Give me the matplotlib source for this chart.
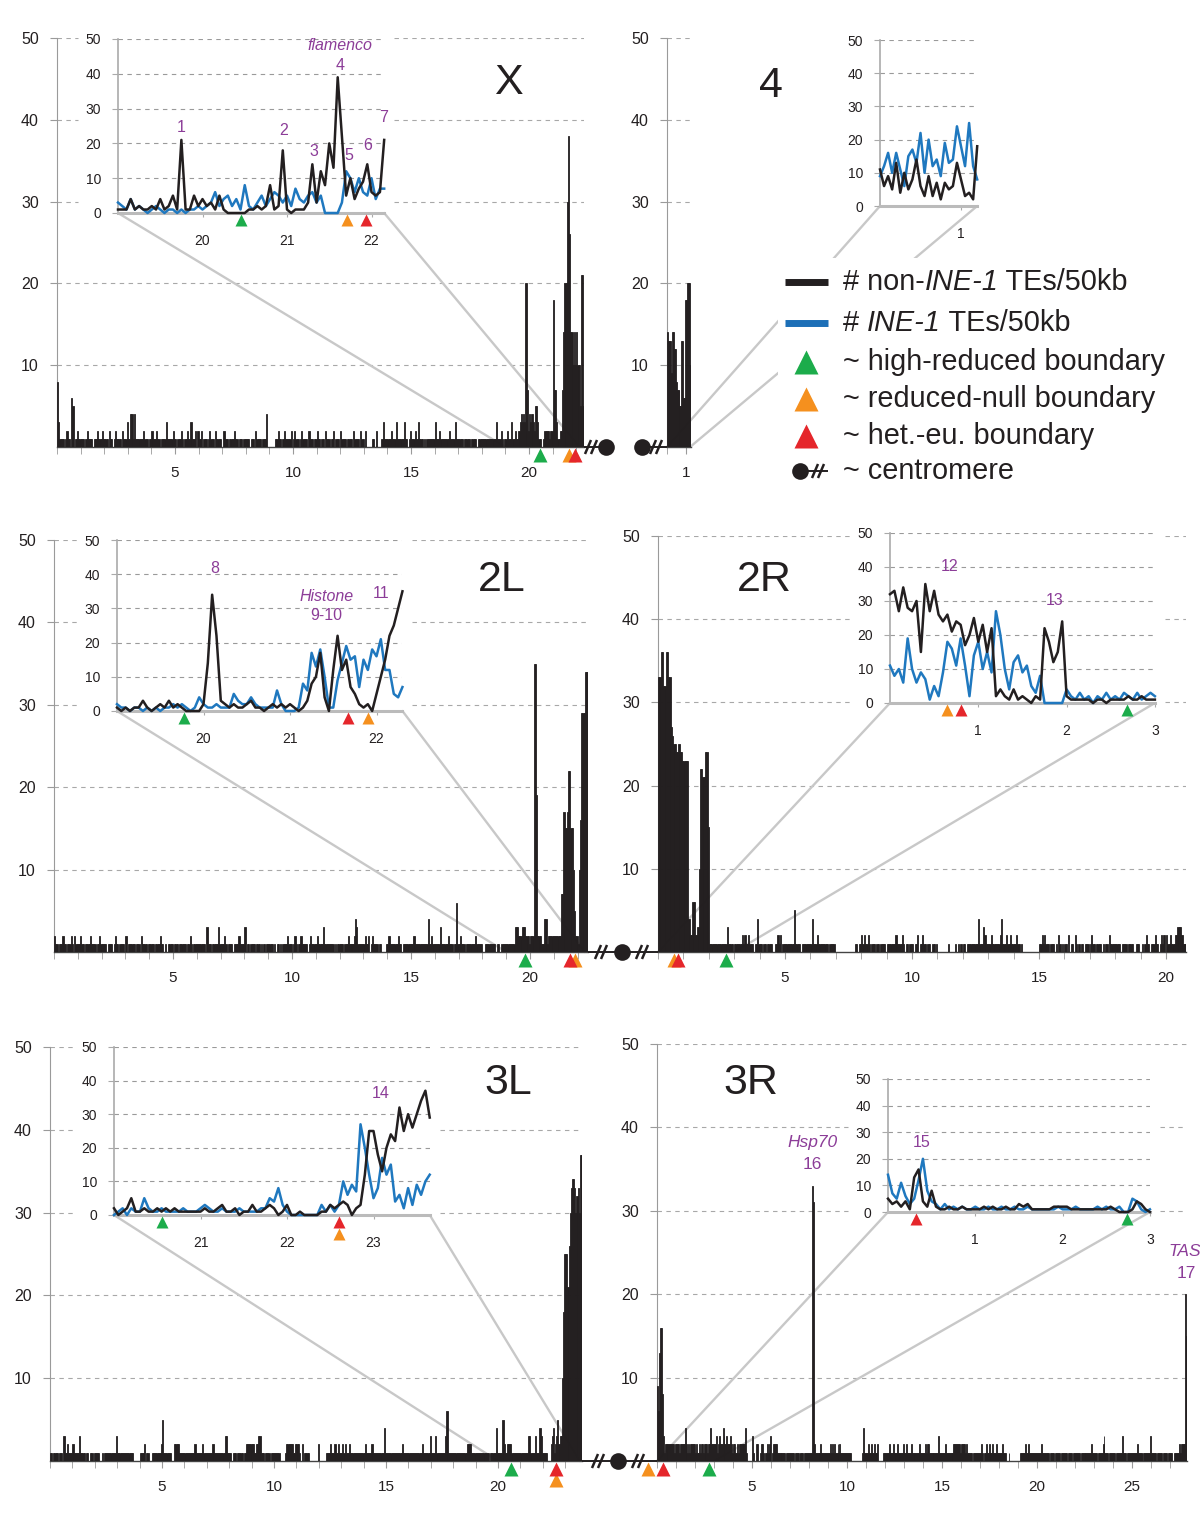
import numpy as np
import matplotlib
matplotlib.use("Agg")
import matplotlib.pyplot as plt
from matplotlib.patches import Rectangle, ConnectionPatch
from matplotlib.lines import Line2D
from matplotlib.transforms import offset_copy

plt.rcParams["font.family"] = ["Liberation Sans", "DejaVu Sans"]

# ---------------------------------------------------------------- data
# TE counts per 50 kb bin, one character per bin (0-9, a=10 ... z=35, A=36 ...)
CODE = "0123456789abcdefghijklmnopqrstuvwxyzABCDEFGHIJKLMNOPQRSTUVWXYZ"
BIN = 0.05  # Mb

X_MAIN = """
8311110121 1065011211 1110121111 0111211121 1110211012
1111021113 1144141111 1112111011 2111211011 1131111121
1011121011 2113111202 1120111012 1110211110 0211101111
2110111011 1110111021 1110111400 0000011211 0121111120
1211101211 1102111011 2110110211 1011201110 2111101111
0211110211 0200000110 2000013111 1112111311 1111311012
1112113111 0101111111 3111211111 1121111311 1111011111
0111100111 1111111111 1131112101 1211131121 1234343k72
4343255311 0012222122 i77311227e kkuCqeeaea eaa5ll5
"""
C4_MAIN = "eddd9eecc8 77755dd66i ikkka"
L2_MAIN = """
2110111211 0111210211 1121101111 2111101121 1111011110
1211011110 2011111101 1102111101 1111011112 1101001111
0111011111 1011210111 1111111031 1101111131 1112101111
0111121111 3011011110 1110101011 1111010110 1011112111
0121011211 1110121111 1211113111 1111101011 1110111211
1124311111 1211201211 1101100001 1211111112 1101111111
1121111111 1111411211 1111311111 1211101161 1211101111
1111211111 0011111111 1011001111 1111111333 2223332221
222zzj2221 1144122222 22222277hf fhmmffa522 1agtttyyy
"""
R2_MAIN = """
xxAAwwAAxx rqppoopoon nnnn422662 23ammlloof 1111111111
1111311110 1111112121 1211101141 1101101111 0011212011
1111111511 1101111111 1411121111 1111011110 0000000000
0000011011 2121121011 1011011110 1111111211 1121011011
1011201121 1011001101 0000000010 0000101010 1101111111
1141113211 1121111112 4111211211 1121101000 0000000000
1121211101 1101021010 1102011021 0101101110 1211011110
1011021111 1111011110 1111001110 0101211011 1211012120
2112111223 332111
"""
L3_MAIN = """
1101111011 1031121111 2111113111 1011001101 1111001011
1111111113 1111111111 1111000000 1111201100 0111111112
5111111100 0222211111 1111111112 1111112111 1111121111
1111113311 1101110111 1101122222 2211223311 1011110111
1111100000 1222222112 2210020111 1000000002 0000001111
2111211211 1212111211 1111111111 1211111211 1111111141
1111111111 1111211111 1111111111 1121111113 1111311111
1113611111 1111111111 1122221111 1111111111 1101111141
1111521122 2211111111 1111111331 1113111431 1111000234
1235233aip pplquxyyxu wxuBB
"""
R3_MAIN = """
96dgg83122 2222222212 2221222224 2212122222 1211212212
1221224222 2231232224 3223222321 2211212222 2224100000
3100220012 1210112123 0122221111 1111101111 1111011110
1111011111 111xv21111 1121111111 1121212111 2121111111
1111000000 0000001411 1121121121 1120000011 1111211121
1112111112 1121111211 1111112111 1121221111 1111113111
1112111111 1122222221 2222121111 1101111111 1210112112
1112111211 1112111000 1000000000 0011111211 1211111111
1111211111 1110111101 1111011111 1101111011 1111101111
1111111211 1110111112 3111101111 1101111113 1111011111
1111121111 1011111113 1111101111 1101111011 1100111112
112222kf
"""

# inset series, one value per 50 kb step from the inset start
X_INS_START = 19.0
X_INS_BLACK = [1, 1, 1, 4, 1, 2, 1, 1, 2, 1, 4, 1, 2, 5, 1, 21, 1, 1, 5, 2,
               4, 2, 3, 1, 5, 1, 0, 0, 0, 0, 0, 1, 1, 2, 1, 2, 8, 1, 2, 18,
               1, 0, 1, 1, 1, 3, 14, 3, 12, 8, 20, 13, 39, 22, 5, 10, 4, 7, 9, 14,
               6, 5, 6, 21]
X_INS_BLUE = [3, 2, 1, 4, 1, 2, 1, 0, 1, 2, 1, 0, 1, 1, 0, 1, 0, 1, 1, 2,
              1, 2, 3, 6, 2, 4, 5, 2, 4, 1, 8, 2, 1, 3, 5, 2, 4, 6, 5, 3,
              5, 2, 7, 4, 3, 5, 6, 3, 5, 0, 0, 0, 0, 3, 12, 10, 6, 10, 6, 5,
              10, 4, 7, 7]
C4_INS_START = 0.0
C4_INS_BLACK = [11, 6, 9, 5, 13, 4, 10, 5, 8, 14, 6, 3, 9, 3, 7, 2, 7, 5, 6, 13,
                8, 3, 4, 2, 18]
C4_INS_BLUE = [9, 12, 16, 10, 16, 11, 6, 15, 17, 13, 22, 10, 20, 12, 14, 9, 19, 13, 14, 24,
               18, 12, 25, 12, 8]
L2_INS_START = 19.0
L2_INS_BLACK = [1, 0, 1, 0, 1, 1, 3, 1, 0, 1, 2, 1, 3, 1, 2, 1, 0, 0, 0, 0,
                2, 14, 34, 22, 3, 2, 1, 2, 1, 1, 2, 3, 1, 1, 0, 1, 2, 1, 2, 1,
                2, 1, 0, 1, 3, 8, 10, 17, 4, 0, 12, 22, 12, 15, 7, 5, 2, 1, 2, 0,
                5, 10, 15, 22, 25, 30, 35]
L2_INS_BLUE = [2, 1, 1, 0, 1, 1, 0, 1, 0, 1, 0, 1, 1, 2, 1, 2, 1, 0, 1, 4,
               2, 1, 1, 2, 1, 1, 1, 5, 3, 2, 2, 4, 2, 1, 1, 1, 1, 6, 2, 0,
               0, 0, 1, 8, 6, 17, 13, 18, 10, 1, 1, 9, 14, 19, 15, 16, 7, 15, 12, 18,
               16, 21, 12, 12, 5, 4, 7]
R2_INS_START = 0.0
R2_INS_BLACK = [32, 33, 27, 34, 28, 27, 30, 15, 35, 27, 33, 26, 24, 26, 21, 24, 23, 17, 20, 25,
                18, 23, 15, 22, 2, 4, 2, 1, 4, 1, 2, 1, 0, 2, 1, 22, 18, 12, 15, 24,
                2, 1, 1, 1, 1, 1, 0, 1, 1, 0, 1, 1, 1, 1, 2, 1, 1, 2, 1, 1, 1]
R2_INS_BLUE = [11, 8, 10, 6, 19, 10, 6, 9, 7, 1, 5, 2, 9, 18, 16, 11, 19, 11, 2, 14,
               18, 10, 15, 9, 27, 20, 10, 4, 12, 14, 9, 11, 5, 3, 8, 0, 0, 0, 0, 0,
               4, 2, 1, 3, 1, 2, 0, 2, 1, 3, 1, 2, 1, 3, 2, 1, 3, 1, 2, 3, 2]
L3_INS_START = 20.0
L3_INS_BLACK = [2, 0, 1, 2, 5, 1, 1, 2, 1, 1, 2, 1, 2, 1, 2, 1, 1, 1, 1, 1,
                1, 2, 1, 1, 2, 3, 1, 1, 2, 0, 1, 1, 3, 1, 1, 2, 3, 2, 0, 1,
                3, 0, 0, 1, 0, 0, 0, 0, 1, 1, 3, 2, 3, 4, 3, 0, 2, 3, 12, 25,
                25, 18, 13, 20, 24, 22, 32, 25, 30, 26, 30, 34, 37, 29]
L3_INS_BLUE = [0, 1, 2, 0, 2, 1, 1, 5, 2, 1, 1, 2, 1, 1, 1, 1, 2, 1, 1, 1,
               2, 3, 2, 1, 1, 2, 1, 1, 1, 2, 1, 1, 1, 1, 2, 2, 5, 4, 8, 3,
               1, 0, 0, 0, 0, 0, 0, 0, 3, 1, 3, 1, 3, 10, 6, 9, 7, 27, 20, 12,
               5, 8, 17, 12, 15, 4, 6, 2, 8, 3, 9, 6, 10, 12]
R3_INS_START = 0.0
R3_INS_BLACK = [5, 3, 4, 2, 4, 1, 13, 16, 4, 2, 8, 2, 1, 1, 2, 1, 1, 2, 1, 1,
                1, 1, 2, 1, 2, 1, 1, 2, 1, 1, 3, 2, 3, 1, 1, 1, 1, 1, 2, 2,
                2, 2, 1, 1, 1, 1, 1, 1, 1, 1, 1, 2, 1, 0, 0, 0, 1, 4, 3, 1, 0]
R3_INS_BLUE = [14, 7, 5, 11, 6, 3, 5, 12, 20, 8, 4, 3, 1, 3, 1, 2, 1, 2, 1, 1,
               2, 1, 1, 2, 1, 1, 2, 1, 1, 2, 1, 1, 2, 1, 1, 1, 1, 1, 1, 2,
               1, 1, 1, 2, 1, 1, 1, 1, 2, 1, 2, 1, 1, 2, 0, 0, 5, 4, 1, 0, 1]

# boundary positions (Mb)
HIGH_REDUCED = {"X": 20.46, "2L": 19.77, "2R": 2.68, "3L": 20.56, "3R": 2.74}
REDUCED_NULL = {"X": 21.71, "2L": 21.90, "2R": 0.64, "3L": 22.60, "3R": -0.47}
HET_EU = {"X": 21.93, "2L": 21.67, "2R": 0.80, "3L": 22.60, "3R": 0.32}

# peak labels: (text, Mb, height, italic)
X_LABELS = [("flamenco", 21.63, 48, True), ("4", 21.63, 42.5, False), ("1", 19.75, 24.7, False),
            ("2", 20.96, 23.6, False), ("3", 21.32, 17.8, False), ("5", 21.73, 16.4, False),
            ("6", 21.95, 19.5, False), ("7", 22.14, 27.3, False)]
L2_LABELS = [("8", 20.13, 41.8, False), ("Histone", 21.42, 33.6, True),
             ("9-10", 21.42, 27.8, False), ("11", 22.05, 34.5, False)]
R2_LABELS = [("12", 0.67, 40, False), ("13", 1.86, 30, False)]
L3_LABELS = [("14", 23.08, 36.3, False)]
R3_LABELS = [("15", 0.38, 26.3, False)]
R3_MAIN_LABELS = [("Hsp70", 8.16, 38.2, True), ("16", 8.16, 35.6, False),
                  ("TAS", 27.8, 25.1, True), ("17", 27.85, 22.5, False)]

# ---------------------------------------------------------------- style
W, H = 1200, 1527
BAR = "#231f20"
BLUE = "#1f78bf"
GRID = "#a8a8a8"
AXGRAY = "#9a9a9a"
ZOOM = "#c8c8c8"
PURPLE = "#8c3d98"
GREEN = "#1cac4b"
ORANGE = "#f5901e"
RED = "#e5262b"
DASH = (0, (4, 4))

fig = plt.figure(figsize=(W / 100, H / 100), dpi=100)
fig.patch.set_facecolor("white")


def fx(x):
    return x / W


def fy(y):
    return 1 - y / H


def add_axes_px(x0, y0, x1, y1, z):
    ax = fig.add_axes([fx(x0), fy(y1), (x1 - x0) / W, (y1 - y0) / H])
    ax.set_zorder(z)
    return ax


def decode(s):
    return [CODE.index(c) for c in s if c in CODE]


def boundary_markers(ax, key, lo, hi, near, far, ms):
    placed = []
    for pos_map, color in [(HIGH_REDUCED, GREEN), (HET_EU, RED), (REDUCED_NULL, ORANGE)]:
        if key not in pos_map:
            continue
        p = pos_map[key]
        if p < lo or p > hi:
            continue
        level = sum(1 for q in placed if abs(q - p) < 0.05)
        placed.append(p)
        dy = near if level == 0 else far
        tr = offset_copy(ax.get_xaxis_transform(), fig=fig, y=-dy, units="dots")
        ax.plot([p], [0], marker="^", ms=ms, color=color, mec="none",
                transform=tr, clip_on=False, zorder=6 if color == RED else 5)


def draw_main(key, vals, left, scale, top, bottom, majors, title, title_xy, hole):
    n = len(vals)
    length = n * BIN
    ax = add_axes_px(left, top, left + length * scale, bottom, 0)
    x = np.arange(n) * BIN
    ax.bar(x, vals, width=BIN, align="edge", color=BAR, edgecolor=BAR, linewidth=0.6,
           zorder=3)
    ax.set_xlim(0, length)
    ax.set_ylim(0, 50)
    ax.set_facecolor("none")
    for s in ["top", "right"]:
        ax.spines[s].set_visible(False)
    ax.spines["left"].set_color(AXGRAY)
    ax.spines["left"].set_linewidth(0.8)
    ax.spines["bottom"].set_color("#444444")
    ax.spines["bottom"].set_linewidth(1.0)
    ax.set_yticks([10, 20, 30, 40, 50])
    ax.set_xticks(majors)
    ax.set_xticks(np.arange(0, int(length) + 1), minor=True)
    ax.tick_params(axis="y", length=5, color=AXGRAY, labelsize=11.5, pad=8, labelcolor=BAR)
    ax.tick_params(axis="x", which="both", length=5, color=AXGRAY, labelsize=11, pad=9,
                   labelcolor=BAR)
    # dashed grid, interrupted where the inset sits
    for v in [10, 20, 30, 40, 50]:
        ypx = bottom - v * (bottom - top) / 50
        spans = [(0, length)]
        if hole is not None and hole[1] <= ypx <= hole[3]:
            a = (hole[0] - left) / scale
            b = (hole[2] - left) / scale
            spans = [(0, max(a, 0)), (min(b, length), length)]
        for s0, s1 in spans:
            if s1 > s0:
                ax.plot([s0, s1], [v, v], color=GRID, ls=DASH, lw=0.8, zorder=1)
    fig.text(fx(title_xy[0]), fy(title_xy[1]), title, fontsize=31, ha="center",
             va="center", color=BAR)
    boundary_markers(ax, key, -1, 40, 8, 19, 10)
    return ax


def inset_hole(n, left, scale, top, bottom):
    right = left + (n - 1) * BIN * scale
    return (left - 40, top - 12, right + 10, bottom + 36)


def draw_inset(main, key, start, black, blue, left, scale, top, bottom, ticks, labels):
    n = len(black)
    x = start + np.arange(n) * BIN
    x0, x1 = left, left + (n - 1) * BIN * scale
    ax = add_axes_px(x0, top, x1, bottom, 2)
    ax.plot(x, blue, color=BLUE, lw=1.8, zorder=3, clip_on=False)
    ax.plot(x, black, color=BAR, lw=1.8, zorder=4, clip_on=False)
    ax.set_xlim(x[0], x[-1])
    ax.set_ylim(0, 50)
    for s in ["top", "right"]:
        ax.spines[s].set_visible(False)
    ax.spines["left"].set_color("#aaaaaa")
    ax.spines["left"].set_linewidth(1.2)
    ax.spines["bottom"].set_color("#bbbbbb")
    ax.spines["bottom"].set_linewidth(2.2)
    ax.set_yticks([0, 10, 20, 30, 40, 50])
    ax.set_xticks(ticks)
    ax.tick_params(axis="y", length=4, color="#aaaaaa", labelsize=10, pad=8, labelcolor=BAR)
    ax.tick_params(axis="x", length=3, color="#aaaaaa", labelsize=10, pad=12, labelcolor=BAR)
    ax.yaxis.grid(True, color=AXGRAY, linestyle=DASH, linewidth=0.8)
    ax.set_axisbelow(True)
    for txt, px, py, it in labels:
        ax.text(px, py, txt, color=PURPLE, fontsize=11.5, ha="center", va="center",
                style="italic" if it else "normal", clip_on=False, zorder=6)
    boundary_markers(ax, key, x[0], x[-1], 7, 19, 9)
    for xa in (x[0], x[-1]):
        con = ConnectionPatch(xyA=(xa, 0), coordsA=ax.transData, xyB=(xa, 0),
                              coordsB=main.transData, color=ZOOM, lw=1.7, zorder=2)
        con.set_clip_on(False)
        main.add_artist(con)
    return ax


INSETS = {
    "X": (X_INS_START, X_INS_BLACK, X_INS_BLUE, 118, 84.5, 39, 213, [20, 21, 22], X_LABELS),
    "4": (C4_INS_START, C4_INS_BLACK, C4_INS_BLUE, 880, 81, 40, 206, [1], []),
    "2L": (L2_INS_START, L2_INS_BLACK, L2_INS_BLUE, 117, 86.5, 540, 711, [20, 21, 22], L2_LABELS),
    "2R": (R2_INS_START, R2_INS_BLACK, R2_INS_BLUE, 890, 88.3, 533, 703, [1, 2, 3], R2_LABELS),
    "3L": (L3_INS_START, L3_INS_BLACK, L3_INS_BLUE, 114, 86.5, 1047, 1215, [21, 22, 23], L3_LABELS),
    "3R": (R3_INS_START, R3_INS_BLACK, R3_INS_BLUE, 888, 87.3, 1079, 1212, [1, 2, 3], R3_LABELS),
}
MAINS = [
    ("X", X_MAIN, 57, 23.6, 38, 447, [5, 10, 15, 20], (508, 83)),
    ("4", C4_MAIN, 667, 19.2, 38, 447, [1], (771, 86)),
    ("2L", L2_MAIN, 54, 23.8, 540, 952, [5, 10, 15, 20], (502, 580)),
    ("2R", R2_MAIN, 658, 25.4, 536, 952, [5, 10, 15, 20], (764, 580)),
    ("3L", L3_MAIN, 50, 22.4, 1047, 1461, [5, 10, 15, 20], (508, 1083)),
    ("3R", R3_MAIN, 657, 19.0, 1044, 1461, [5, 10, 15, 20, 25], (751, 1083)),
]

main_axes = {}
for key, s, left, scale, top, bottom, majors, txy in MAINS:
    ins = INSETS[key]
    hole = inset_hole(len(ins[1]), ins[3], ins[4], ins[5], ins[6])
    main_axes[key] = draw_main(key, decode(s), left, scale, top, bottom, majors, key, txy, hole)

for txt, px, py, it in R3_MAIN_LABELS:
    main_axes["3R"].text(px, py, txt, color=PURPLE, fontsize=12.5, ha="center", va="center",
                         style="italic" if it else "normal", clip_on=False, zorder=6)

for key, ins in INSETS.items():
    draw_inset(main_axes[key], key, *ins)


# ---------------------------------------------------------------- centromeres
def seg(x0, y0, x1, y1, lw=1.4, color=BAR, z=4):
    fig.add_artist(Line2D([fx(x0), fx(x1)], [fy(y0), fy(y1)], color=color, lw=lw,
                          transform=fig.transFigure, zorder=z, solid_capstyle="butt"))


def slashes(x, y):
    for dx in (-3, 3):
        seg(x + dx - 3, y + 7, x + dx + 3, y - 7, lw=1.8)


def dot(x, y, ms=12):
    fig.add_artist(Line2D([fx(x)], [fy(y)], marker="o", ms=ms, color=BAR, mec="none",
                          linestyle="none", transform=fig.transFigure, zorder=4))


seg(584, 447, 606, 447)
slashes(591, 447)
dot(606, 447)
dot(642, 447)
seg(642, 447, 667, 447)
slashes(656, 447)

seg(588, 952, 658, 952)
slashes(601, 952)
dot(622, 952)
slashes(642, 952)

seg(582, 1461, 657, 1461)
slashes(598, 1461)
dot(618, 1461)
slashes(638, 1461)

# ---------------------------------------------------------------- legend
fig.add_artist(Rectangle((fx(778), fy(492)), (1178 - 778) / W, (492 - 258) / H,
                         transform=fig.transFigure, facecolor="white", edgecolor="none",
                         zorder=1))
seg(785, 282, 828, 282, lw=5, color=BAR, z=3)
seg(785, 323, 828, 323, lw=5, color="#1c6fb7", z=3)
for yy, col in [(362, GREEN), (399, ORANGE), (436, RED)]:
    fig.add_artist(Line2D([fx(806)], [fy(yy)], marker="^", ms=17, color=col, mec="none",
                          linestyle="none", transform=fig.transFigure, zorder=3))
dot(800, 471, ms=12)
seg(808, 471, 828, 471)
slashes(818, 471)

LEG = 20.8
renderer = fig.canvas.get_renderer()


def legend_line(y, parts):
    cur = fx(843)
    for s, it in parts:
        t = fig.text(cur, fy(y), s, fontsize=LEG, va="center", color=BAR, zorder=3,
                     style="italic" if it else "normal")
        cur += t.get_window_extent(renderer=renderer).width / W


legend_line(282, [("# non-", False), ("INE-1", True), (" TEs/50kb", False)])
legend_line(323, [("# ", False), ("INE-1", True), (" TEs/50kb", False)])
legend_line(362, [("~ high-reduced boundary", False)])
legend_line(399, [("~ reduced-null boundary", False)])
legend_line(436, [("~ het.-eu. boundary", False)])
legend_line(471, [("~ centromere", False)])

fig.savefig("out.png", dpi=100, facecolor="white")
